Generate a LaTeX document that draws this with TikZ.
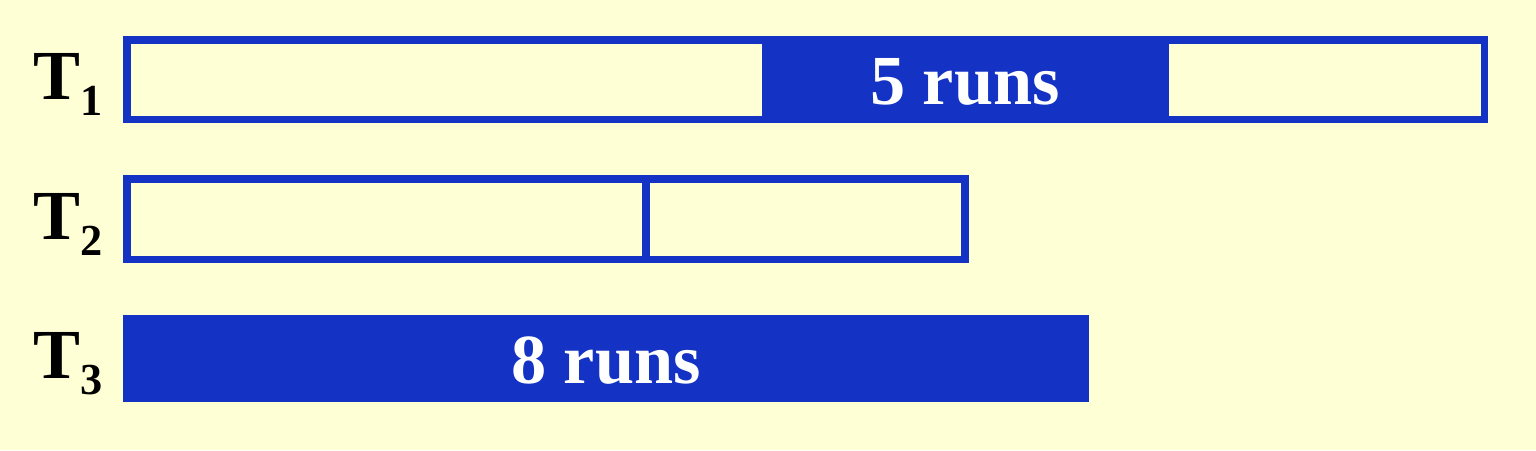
\documentclass[tikz,border=0pt]{standalone}
\usepackage{fontspec}
\setmainfont{Liberation Serif}

\definecolor{runblue}{RGB}{20,50,195}
\definecolor{paper}{RGB}{255,255,213}

\tikzset{
  tape/.style={draw=runblue, line width=2.2pt},
  runfill/.style={fill=runblue, draw=none},
  runtext/.style={text=white, font=\fontsize{20}{24}\selectfont\bfseries, inner sep=0pt, anchor=base},
  tapelabel/.style={font=\fontsize{20}{24}\selectfont\bfseries, inner sep=0pt, anchor=base west}
}
\newcommand{\tsub}[1]{\raisebox{-4.55pt}{\fontsize{12.6}{14}\selectfont #1}}

\begin{document}
\begin{tikzpicture}[x=0.01cm, y=-0.01cm]

  % Background
  \fill[paper] (0,0) rectangle (1536,450);
  \useasboundingbox (0,0) rectangle (1536,450);

  % Labels
  \node[tapelabel] (t1) at (33,99)  {T\tsub{1}};
  \node[tapelabel] (t2) at (33,239) {T\tsub{2}};
  \node[tapelabel] (t3) at (33,378) {T\tsub{3}};

  % Tape 1
  \draw[tape] (127,40) rectangle (1484.5,119.5);
  \fill[runfill] (762,36) rectangle (1169,123);
  \node[runtext] (runs1) at (965,104) {5 runs};

  % Tape 2
  \draw[tape] (127,179) rectangle (965,259.5);
  \draw[tape] (646,179) -- (646,259.5);

  % Tape 3
  \fill[runfill] (123,315) rectangle (1089,402);
  \node[runtext] (runs3) at (606,383) {8 runs};

\end{tikzpicture}
\end{document}
